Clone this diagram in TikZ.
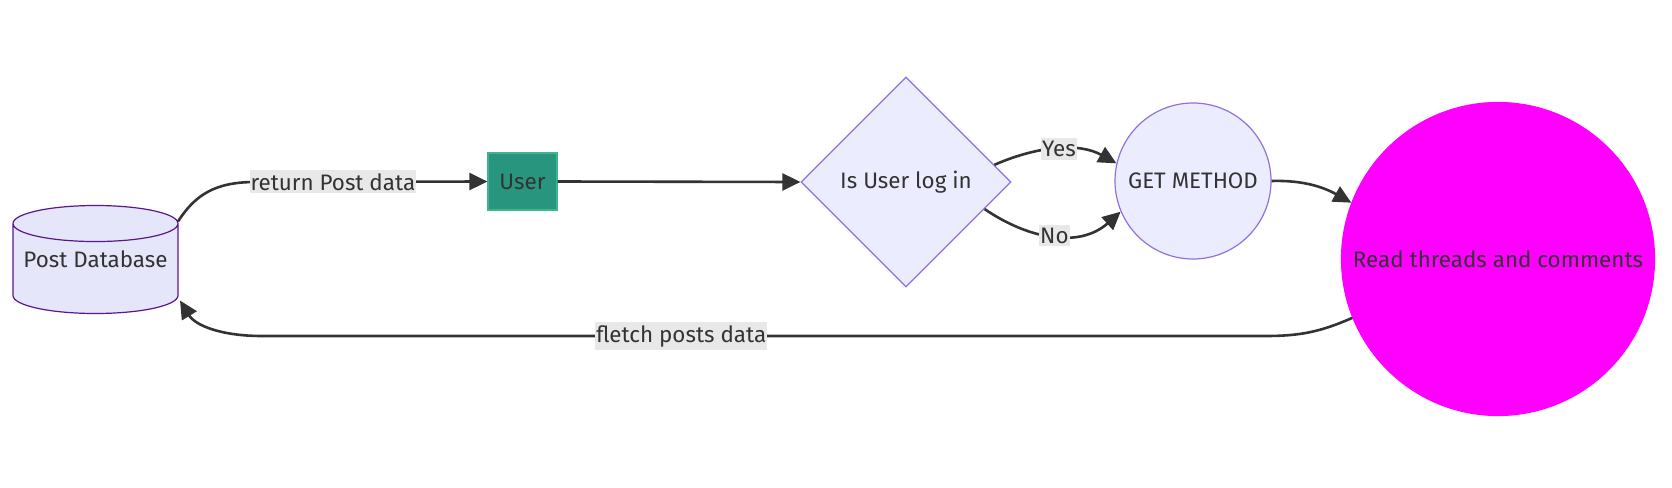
\documentclass[tikz,border=0pt]{standalone}
\usepackage{fontspec}
\setmainfont{Fira Sans}
\usetikzlibrary{shapes.geometric,arrows.meta}
\definecolor{ink}{HTML}{333333}
\definecolor{lav}{HTML}{ECECFF}
\definecolor{lavline}{HTML}{9370DB}
\definecolor{dbfill}{HTML}{E6E6FA}
\definecolor{dbline}{HTML}{5A1690}
\definecolor{usergreen}{HTML}{28957F}
\definecolor{userline}{HTML}{3DB58E}
\definecolor{readfill}{HTML}{FF00FF}
\definecolor{labelbg}{HTML}{E8E8E8}
\begin{document}
\begin{tikzpicture}[x=1pt,y=-1pt,font=\fontsize{22.4}{26}\selectfont,text=ink,
    every node/.style={line width=1.2pt},
    edge/.style={draw=ink,line width=2.6pt,-{Triangle[length=18pt,width=17pt]}},
    elabel/.style={fill=labelbg,inner xsep=1pt,inner ysep=3pt,text=ink}]
    \useasboundingbox (0,0) rectangle (1672,487);
    \node[cylinder,shape border rotate=90,aspect=0.25,draw=dbline,fill=dbfill,minimum width=165pt,minimum height=108pt,inner sep=0pt,anchor=shape center] (db) at (95.5,259.5) {\phantom{Post Database}};
    \node (dbtext) at (db.shape center) {Post Database};
    \node[fill=usergreen,draw=userline,minimum width=69pt,minimum height=57pt] (user) at (522.5,181.5) {User};
    \node[diamond,fill=lav,draw=lavline,minimum width=210pt,minimum height=210pt,inner sep=0pt] (login) at (906,182) {Is User log in};
    \node[circle,fill=lav,draw=lavline,minimum size=156pt,inner sep=0pt] (get) at (1193,181) {GET METHOD};
    \node[circle,fill=readfill,draw=readfill,minimum size=313pt,inner sep=0pt] (read) at (1498,259) {Read threads and comments};
    \draw[edge] ([shift={(82.5,-38)}]db.shape center) .. controls (195,195) and (215,182) .. (255,182) -- node[elabel,pos=0.335]{return Post data} (user.west);
    \draw[edge] (user.east) -- (login.west);
    \draw[edge] (login.11) .. controls (1040,145) and (1080,143) .. node[elabel]{Yes} (get.167);
    \draw[edge] (login.-19) .. controls (1030,240) and (1080,248) .. node[elabel]{No} (get.203);
    \draw[edge] (get.east) .. controls (1305,180) and (1325,188) .. (read.159);
    \draw[edge] (read.202) .. controls (1320,332) and (1300,336) .. (1265,336) -- node[elabel,pos=0.582]{fletch posts data} (262,336) .. controls (220,336) and (195,325) .. ([shift={(84.5,41)}]db.shape center);
\end{tikzpicture}
\end{document}
